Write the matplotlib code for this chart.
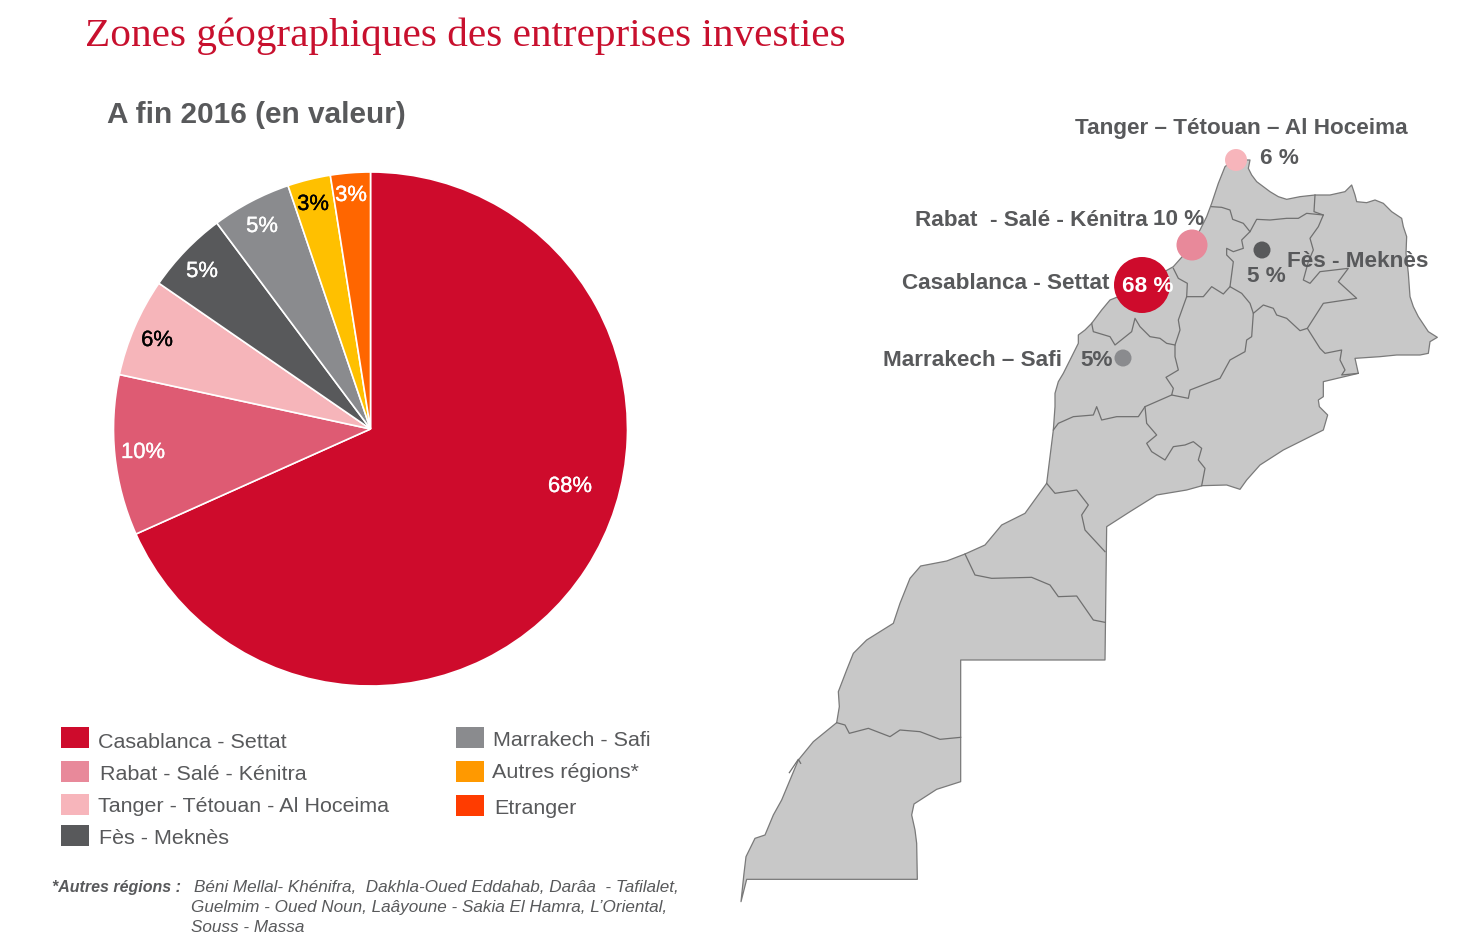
import matplotlib
matplotlib.use("Agg")
import matplotlib.pyplot as plt
import matplotlib.patheffects as pe
from matplotlib.patches import Polygon, Rectangle, Circle

W, H = 1476, 948
TITLE = "Zones géographiques des entreprises investies"
SUBTITLE = "A fin 2016 (en valeur)"
regions = ["Casablanca - Settat", "Rabat - Salé - Kénitra", "Tanger - Tétouan - Al Hoceima",
           "Fès - Meknès", "Marrakech - Safi", "Autres régions*", "Etranger"]
pie_labels = [68, 10, 6, 5, 5, 3, 3]
pie_shares = [68.3, 10.1, 6.2, 5.2, 5.0, 2.7, 2.5]
pie_colors = ["#CE0B2C", "#DE5B73", "#F6B5BA", "#58595B", "#8A8B8E", "#FFC000", "#FF6600"]
legend_colors = ["#CE0B2C", "#E8899A", "#F7B5BB", "#58595B", "#8A8B8E", "#FF9900", "#FF3C00"]
pie_label_colors = ["white", "white", "black", "white", "white", "black", "white"]

# Map geometry, read from the two zoomed views
upper_coast = [(50,1030),(70,870),(75,800),(75,760),(85,725),(100,700),(125,650),(145,610),(145,585),(165,570),(185,550),
               (215,510),(240,480),(265,470),(350,425),(430,380),(470,335),(510,270),(530,230),(545,190),(565,130),
               (585,80),(610,60),(660,60),(655,85),(665,105),(680,125),(700,140),(720,155),(745,170),(770,178),(810,170),
               (855,165),(900,165),(945,155),(965,135),(975,165),(980,185),(1010,188),(1035,180),(1060,190),(1085,215),
               (1115,235),(1120,260),(1130,290),(1128,340),(1135,400),(1140,470),(1150,500),(1165,530),(1195,575),
               (1222,592),(1200,605),(1195,640),(1170,645),(1100,645),(1050,650),(975,655),(985,700),(880,725),(880,770),
               (865,780),(868,800),(893,825),(880,870),(820,900),(760,930),(690,975),(650,1020),(630,1048),(590,1035),
               (517,1037),(470,1050),(380,1065),(300,1115)]
lower_outline = [(1130,140),(1125,540),(692,540),(692,905),(620,928),(552,972),(545,1005),(555,1050),(560,1090),(562,1198),
                 (50,1198),(33,1265),(42,1180),(48,1130),(75,1075),(105,1065),(130,1005),(155,960),(180,900),(205,840),
                 (250,785),(320,728),(328,680),(325,635),(350,570),(370,520),(410,480),(490,430),(510,370),(540,295),
                 (572,258),(650,243),(705,222),(765,195),(815,135),(885,100),(950,10)]
upper_borders = [
    [(545,200),(575,202),(600,210),(608,238),(640,250),(660,275),(680,238),(720,240),(770,235),(805,235),(830,220),(880,225)],
    [(855,165),(852,215),(880,225),(865,260),(840,295),(850,330),(835,365),(820,420),(840,430),(870,395),(955,385),
     (925,425),(980,475),(880,490),(832,565),(810,572),(770,535),(740,525),(730,505),(700,495),(670,520),(660,490),
     (635,460),(600,440),(610,365),(590,345),(590,325),(610,335),(640,325),(635,300),(660,275)],
    [(600,440),(580,462),(545,440),(520,470),(470,470),(445,540),(450,570),(435,615),(435,650),(445,690),(408,712),
     (430,745),(425,765),(475,775),(480,750),(570,715),(600,660),(645,635),(650,600),(665,590),(670,520)],
    [(430,385),(445,415),(472,430),(470,470)],
    [(435,615),(410,610),(390,595),(360,590),(330,560),(315,535),(305,575),(255,615),(240,590),(190,575),(185,550)],
    [(425,765),(345,800),(325,830),(260,830),(215,840),(200,800),(190,825),(130,830),(85,850),(70,870)],
    [(345,800),(350,850),(380,885),(350,910),(365,935),(405,960),(430,920),(465,915),(490,905),(515,925),(505,960),
     (525,985),(515,1037)],
    [(832,565),(870,625),(885,640),(935,630),(930,660),(945,690),(935,705),(985,700)],
]
lower_borders = [
    [(950,10),(975,40),(1040,30),(1075,75),(1055,105),(1065,150),(1125,215)],
    [(705,222),(735,285),(785,295),(905,292),(960,315),(985,350),(1040,348),(1090,420),(1125,427)],
    [(320,728),(345,735),(358,760),(415,745),(480,770),(510,750),(570,755),(630,778),(692,772)],
    [(178,878),(205,838),(212,850)],
]
map_labels = ["Tanger – Tétouan – Al Hoceima", "6 %", "Rabat  - Salé - Kénitra", "10 %", "Casablanca - Settat",
              "68 %", "Marrakech – Safi", "5%", "Fès - Meknès", "5 %"]
NOTE_HEAD = "*Autres régions :"
NOTE_LINES = ["Béni Mellal- Khénifra,  Dakhla-Oued Eddahab, Darâa  - Tafilalet,",
              "Guelmim - Oued Noun, Laâyoune - Sakia El Hamra, L’Oriental,",
              "Souss - Massa"]

GREY = "#58595B"
SANS = "Liberation Sans"
def fpx(px):
    return px * 0.72
def z1(pts):
    return [(1030 + x / 3, 140 + y / 3) for x, y in pts]
def z2(pts):
    return [(730 + x / 3, 480 + y / 3) for x, y in pts]

fig = plt.figure(figsize=(W / 100, H / 100), dpi=100, facecolor="white")

# Pie
cx, cy, r = 370.5, 429, 257
pad = 1.02
pax = fig.add_axes([(cx - r * pad) / W, 1 - (cy + r * pad) / H, 2 * r * pad / W, 2 * r * pad / H])
pax.pie(pie_shares, colors=pie_colors, startangle=90, counterclock=False, radius=1, normalize=True,
        wedgeprops=dict(edgecolor="white", linewidth=1.2))
pax.set_xlim(-pad, pad); pax.set_ylim(-pad, pad)

# Pixel-space overlay
ax = fig.add_axes([0, 0, 1, 1], facecolor="none")
ax.set_xlim(0, W); ax.set_ylim(H, 0); ax.axis("off")

def t(x, y, s, size, color=GREY, weight="normal", style="normal", ha="left", family=SANS):
    return ax.text(x, y + 1.5, s, fontsize=fpx(size), color=color, fontweight=weight, fontstyle=style,
                   ha=ha, va="center", family=family)

t(85, 35, TITLE, 41.2, color="#C8102E", family="Liberation Serif")
t(107, 113, SUBTITLE, 29.8, weight="bold")

for (x, y), v, c in zip([(570, 485), (143, 451), (157, 339), (202, 270), (262, 225), (313, 203), (351, 194)],
                        pie_labels, pie_label_colors):
    t(x, y, f"{v}%", 22, color=c, ha="center").set_path_effects([pe.withStroke(linewidth=0.25, foreground=c)])

# Legend
sw_left = [(61, 727), (61, 761), (61, 794), (61, 825)]
sw_right = [(456, 727), (456, 761), (456, 795)]
text_pos = [(98, 741), (100, 773), (98, 805), (99, 837), (493, 739), (492, 771), (494, 807)]
for (x, y), c in zip(sw_left + sw_right, legend_colors):
    ax.add_patch(Rectangle((x, y), 28, 21, facecolor=c, edgecolor="none"))
for (x, y), s in zip(text_pos, regions):
    t(x, y, s, 21.5)

# Footnote
t(52, 886, NOTE_HEAD, 16, weight="bold", style="italic")
for (x, y), s in zip([(194, 886), (191, 906), (191, 926)], NOTE_LINES):
    t(x, y, s, 17.1, style="italic")

# Map
outline = z1(upper_coast) + z2(lower_outline)
ax.add_patch(Polygon(outline, closed=True, facecolor="#C8C8C8", edgecolor="#7A7A7A", linewidth=0.9, joinstyle="round"))
for b in upper_borders:
    xs, ys = zip(*z1(b)); ax.plot(xs, ys, color="#707070", lw=0.9)
for b in lower_borders:
    xs, ys = zip(*z2(b)); ax.plot(xs, ys, color="#707070", lw=0.9)

# Bubbles: Casablanca, Rabat, Tanger, Fès, Marrakech
bubble_xy = [(1142, 285), (1192, 245), (1236, 160), (1262, 250), (1123, 358)]
bubble_r = [28, 15.5, 11, 8.5, 8.5]
bubble_col = ["#CE0B2C", "#E8899A", "#F7B5BB", "#58595B", "#8A8B8E"]
for xy, rr, c in zip(bubble_xy, bubble_r, bubble_col):
    ax.add_patch(Circle(xy, rr, facecolor=c, edgecolor="none", zorder=3))

label_pos = [(1075, 127), (1260, 157), (915, 219), (1153, 218), (902, 282), (1122, 285), (883, 359), (1080, 359),
             (1287, 260), (1247, 275)]
for (x, y), s in zip(label_pos, map_labels):
    t(x, y, s, 22.5, weight="bold", color="white" if s == "68 %" else GREY).set_zorder(4)

fig.savefig("out.png", dpi=100)
